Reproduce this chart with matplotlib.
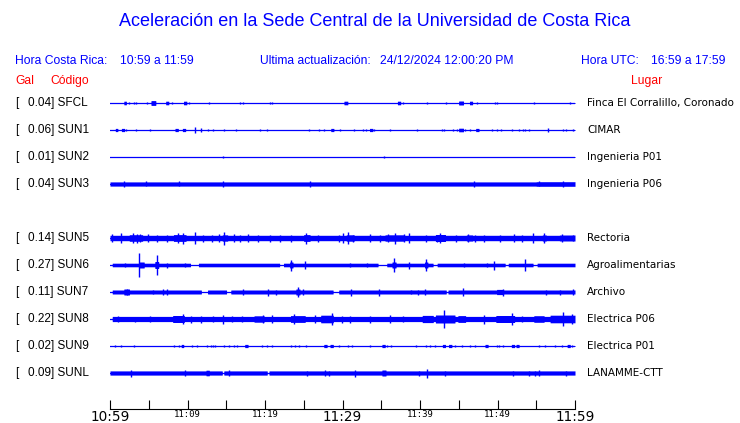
import numpy as np
import matplotlib
matplotlib.use("Agg")
import matplotlib.pyplot as plt

# stations, top to bottom (SUN4 has no data in this window)
codes = ["SFCL", "SUN1", "SUN2", "SUN3", "SUN4", "SUN5", "SUN6", "SUN7", "SUN8", "SUN9", "SUNL"]
gal = [0.04, 0.06, 0.01, 0.04, None, 0.14, 0.27, 0.11, 0.22, 0.02, 0.09]
places = ["Finca El Corralillo, Coronado", "CIMAR", "Ingenieria P01", "Ingenieria P06", "",
          "Rectoria", "Agroalimentarias", "Archivo", "Electrica P06", "Electrica P01", "LANAMME-CTT"]

# time axis: minutes after 10:59
tick_min = list(range(0, 61, 5))
tick_txt = ["10:59", "", "11:09", "", "11:19", "", "11:29", "", "11:39", "", "11:49", "", "11:59"]

# background amplitude of each trace (half width of the band)
base = [0.5, 0.5, 0.5, 2.1, None, 2.7, 1.8, 2.0, 2.6, 0.5, 2.1]

# quiet stretches (start, end minute) where the band shrinks to a line
quiet = {
    "SUN6": [(0, 0.3), (10.4, 11.4), (21.9, 22.4), (34.6, 35.7), (41.7, 42.2), (51.0, 51.4), (54.6, 55.1)],
    "SUN7": [(0, 0.3), (11.8, 12.6), (15.05, 15.6), (28.8, 29.5), (43.4, 43.6)],
    "SUN8": [(0, 0.3)],
    "SUNL": [(14.5, 14.7), (20.3, 20.5)],
}

# longer bursts: (start, end, half amplitude)
bursts = {
    "SFCL": [(1.8, 2.1, 1.8), (5.3, 5.9, 2.4), (7.2, 7.6, 1.8), (9.5, 9.9, 1.8), (30.2, 30.7, 1.8),
             (37.1, 37.5, 1.8), (45.0, 45.6, 2.0), (46.4, 46.8, 1.8)],
    "SUN1": [(0.7, 1.0, 1.6), (1.5, 1.9, 1.6), (8.4, 8.8, 1.6), (9.35, 9.75, 1.6), (28.5, 28.9, 1.6),
             (33.5, 33.9, 1.6), (45.0, 45.6, 1.8), (47.2, 47.6, 1.6)],
    "SUN3": [(55.0, 60, 2.3)],
    "SUN5": [(2.5, 4.2, 3.3), (8.2, 9.8, 3.4), (14.5, 15.2, 3.2), (25.0, 25.8, 3.4), (30.5, 31.5, 3.2),
             (35.5, 38.0, 3.2), (42.0, 43.3, 3.5), (46.0, 46.8, 3.1), (55.8, 56.3, 3.1), (58.0, 60, 3.0)],
    "SUN6": [(3.7, 4.4, 3.0), (5.8, 6.3, 3.5), (23.2, 23.6, 3.0), (36.4, 36.9, 3.0), (40.6, 41.0, 3.0)],
    "SUN7": [(1.8, 2.5, 3.0), (24.0, 24.5, 3.0), (49.9, 50.8, 2.6)],
    "SUN8": [(8.1, 9.6, 3.5), (18.6, 19.9, 3.2), (23.3, 25.2, 3.4), (27.2, 28.8, 3.8), (40.3, 41.7, 3.6),
             (42.0, 44.5, 4.0), (44.9, 45.9, 3.4), (49.8, 52.2, 3.5), (54.7, 56.0, 3.3), (56.8, 60, 3.8)],
    "SUN9": [(9.2, 9.5, 1.6), (17.4, 17.8, 1.6), (27.6, 28.0, 1.6), (28.4, 28.8, 1.6), (35.1, 35.5, 1.6),
             (42.9, 43.3, 1.6), (43.7, 44.1, 1.6), (48.4, 48.8, 1.6), (51.8, 52.2, 1.6), (52.4, 52.8, 1.6),
             (59.0, 59.4, 1.6)],
    "SUNL": [(12.4, 12.8, 2.8), (35.1, 35.6, 3.0)],
}

# single peaks: (minute, half amplitude)
spikes = {
    "SFCL": [(2.5, 1.4), (3.05, 1.4), (3.3, 1.4), (4.8, 1.4), (7.95, 1.4), (10.2, 1.4), (12.8, 1.4),
             (16.8, 1.4), (17.2, 1.4), (20.7, 1.4), (20.9, 1.4), (37.8, 1.4), (40.9, 1.4), (43.4, 1.4),
             (47.4, 1.4), (49.7, 1.4), (49.9, 1.4), (54.7, 1.4), (59.35, 1.4)],
    "SUN1": [(1.5, 1.4), (2.0, 1.4), (3.4, 1.2), (5.1, 1.4), (11.0, 3.4), (11.7, 1.6), (12.65, 1.4),
             (13.25, 1.2), (14.75, 1.0), (16.2, 1.0), (19.4, 1.2), (20.2, 1.4), (25.7, 1.2), (27.0, 1.2),
             (27.65, 1.2), (29.7, 1.2), (31.5, 1.4), (32.7, 1.4), (33.0, 1.4), (34.0, 1.2), (36.1, 1.4),
             (39.65, 1.2), (42.9, 1.4), (43.1, 1.4), (44.2, 1.4), (44.8, 1.4), (45.8, 1.4), (46.45, 1.4),
             (49.3, 1.4), (49.9, 1.2), (50.5, 1.4), (51.9, 1.2), (52.8, 1.4), (53.25, 1.4), (53.5, 1.4),
             (54.0, 1.2), (56.5, 1.6), (58.4, 1.4), (58.8, 1.4), (59.8, 1.4)],
    "SUN2": [(14.6, 1.0), (35.4, 1.0)],
    "SUN3": [(1.85, 3.0), (4.65, 2.5), (8.9, 2.5), (14.6, 3.2), (25.8, 3.0), (47.0, 2.8), (55.4, 2.5),
             (58.4, 3.0)],
    "SUN5": [(0.3, 4.0), (1.38, 5.0), (3.0, 5.0), (3.44, 4.5), (3.87, 4.0), (4.95, 4.0), (6.02, 3.5),
             (7.3, 3.5), (8.73, 5.0), (9.46, 5.5), (11.0, 6.0), (12.0, 3.5), (13.1, 3.5), (14.0, 4.0),
             (14.7, 6.5), (16.0, 4.0), (16.8, 3.5), (17.85, 4.0), (19.1, 3.5), (20.7, 3.5), (21.9, 3.5),
             (23.4, 3.5), (25.3, 5.5), (26.9, 3.5), (29.5, 3.5), (30.1, 5.0), (30.75, 6.3), (31.4, 3.5),
             (33.5, 4.0), (34.8, 3.5), (35.9, 4.0), (36.8, 5.5), (37.9, 4.0), (38.6, 5.0), (40.8, 3.5),
             (42.2, 3.5), (42.6, 5.0), (44.7, 3.5), (46.2, 4.0), (47.1, 3.5), (48.2, 3.5), (50.3, 3.5),
             (52.1, 4.0), (53.1, 3.5), (54.6, 5.0), (56.0, 5.0), (58.3, 4.0), (59.8, 3.0)],
    "SUN6": [(1.9, 2.2), (3.8, 12.0), (6.0, 10.0), (7.3, 2.5), (9.7, 2.2), (23.35, 5.5), (25.1, 4.0),
             (31.0, 2.0), (33.1, 2.0), (36.6, 7.0), (38.6, 3.5), (40.8, 6.0), (45.7, 2.2), (48.6, 2.2),
             (49.5, 4.5), (53.6, 6.0)],
    "SUN7": [(2.15, 3.3), (5.6, 2.3), (6.8, 3.0), (7.3, 3.0), (17.1, 3.0), (20.4, 3.5), (21.4, 2.5),
             (24.2, 5.0), (24.9, 3.0), (31.1, 3.5), (34.7, 3.5), (38.9, 2.3), (39.8, 2.5), (40.6, 3.0),
             (45.6, 4.0), (50.75, 3.5), (56.3, 2.5), (58.1, 2.5), (59.8, 3.0)],
    "SUN8": [(1.08, 3.0), (3.2, 2.5), (5.16, 3.0), (9.46, 5.0), (10.5, 3.5), (11.8, 3.5), (13.3, 3.0),
             (14.6, 4.5), (15.7, 3.0), (17.0, 3.0), (19.7, 4.0), (20.9, 4.0), (23.7, 5.0), (26.4, 4.0),
             (28.6, 6.0), (29.9, 3.5), (31.0, 3.5), (33.5, 3.5), (36.1, 4.0), (37.8, 3.0), (43.1, 9.0),
             (48.2, 4.5), (51.9, 6.0), (53.2, 3.0), (58.5, 7.0), (59.6, 5.0)],
    "SUN9": [(0.65, 1.2), (1.42, 1.2), (3.14, 1.2), (8.26, 1.2), (8.9, 1.4), (10.6, 1.4), (11.2, 1.2),
             (12.5, 1.2), (13.0, 1.2), (13.3, 1.4), (13.55, 1.2), (14.75, 1.2), (15.4, 1.2), (16.0, 1.4),
             (16.35, 1.2), (19.65, 1.2), (20.3, 1.2), (20.95, 1.2), (23.35, 1.2), (23.9, 1.4), (24.4, 1.2),
             (25.3, 1.4), (29.5, 1.2), (30.75, 1.4), (31.2, 1.2), (33.5, 1.2), (35.8, 1.2), (36.3, 1.4),
             (39.5, 1.2), (40.8, 1.2), (41.3, 1.4), (41.9, 1.2), (44.5, 1.2), (45.4, 1.4), (46.5, 1.4),
             (47.1, 1.4), (49.9, 1.4), (50.2, 1.2), (50.7, 1.4), (55.4, 1.2), (56.1, 1.2), (57.4, 1.2),
             (58.3, 1.2), (59.6, 1.4)],
    "SUNL": [(2.71, 3.5), (9.68, 2.8), (15.4, 3.0), (25.4, 2.5), (27.75, 2.8), (28.3, 2.5), (31.6, 3.5),
             (39.9, 2.5), (40.9, 4.5), (43.2, 2.5), (52.0, 2.5), (54.1, 2.5), (54.9, 2.5), (55.4, 3.0),
             (58.9, 2.5)],
}

W, H = 740, 423
fig = plt.figure(figsize=(W / 100, H / 100), dpi=100)
fig.patch.set_facecolor("white")

def fx(px):
    return px / W

def fy(py):
    return 1 - py / H

blue = "#0000ff"
sans = ["Liberation Sans", "DejaVu Sans"]

# trace panel, y in pixel-like units growing downward
ax = fig.add_axes([fx(110), fy(409), fx(575) - fx(110), fy(90) - fy(409)])
ax.set_xlim(0, 60)
ax.set_ylim(409, 90)
for s in ["top", "left", "right"]:
    ax.spines[s].set_visible(False)
ax.spines["bottom"].set_linewidth(0.8)
ax.set_yticks([])
ax.set_xticks(tick_min)
ax.set_xticklabels(tick_txt)
ax.tick_params(axis="x", direction="in", length=6.5, width=0.8, pad=0.8)
for lab, txt in zip(ax.get_xticklabels(), tick_txt):
    if txt in ("10:59", "11:29", "11:59"):
        lab.set_fontfamily("DejaVu Sans")
        lab.set_fontsize(9.8)
    else:
        lab.set_fontfamily("DejaVu Sans Mono")
        lab.set_fontsize(6.5)

t = np.linspace(0, 60, 2401)
for i, code in enumerate(codes):
    yc = 103 + 27 * i
    if gal[i] is None:
        continue
    env = np.full_like(t, base[i])
    for a, b in quiet.get(code, []):
        env[(t >= a) & (t <= b)] = 0.5
    for a, b, h in bursts.get(code, []):
        m = (t >= a) & (t <= b)
        env[m] = np.maximum(env[m], h)
    ax.fill_between(t, yc - env, yc + env, color=blue, lw=0)
    ax.plot([0, 60], [yc, yc], color=blue, lw=0.9)
    sp = spikes.get(code, [])
    if sp:
        st = [p[0] for p in sp]
        sh = [p[1] for p in sp]
        ax.vlines(st, [yc - h for h in sh], [yc + h for h in sh], color=blue, lw=1.0)

    # labels
    fig.text(fx(15), fy(yc), "[", fontsize=8.5, family=sans, va="center", ha="left")
    fig.text(fx(28), fy(yc), "%.2f] %s" % (gal[i], code), fontsize=8.5, family=sans,
             va="center", ha="left")
    fig.text(fx(587), fy(yc), places[i], fontsize=7.45, family="DejaVu Sans",
             va="center", ha="left")

# header
fig.text(fx(375), fy(22), "Aceleración en la Sede Central de la Universidad de Costa Rica",
         color=blue, fontsize=13, family=sans, ha="center", va="center")
hdr = [(15, "Hora Costa Rica:"), (120, "10:59 a 11:59"), (260, "Ultima actualización:"),
       (380, "24/12/2024 12:00:20 PM"), (581, "Hora UTC:"), (651, "16:59 a 17:59")]
for x, s in hdr:
    fig.text(fx(x), fy(61), s, color=blue, fontsize=8.7, family=sans, ha="left", va="center")
for x, s in [(15, "Gal"), (50, "Código"), (631, "Lugar")]:
    fig.text(fx(x), fy(81), s, color="red", fontsize=8.7, family=sans, ha="left", va="center")

fig.savefig("out.png", dpi=100)
